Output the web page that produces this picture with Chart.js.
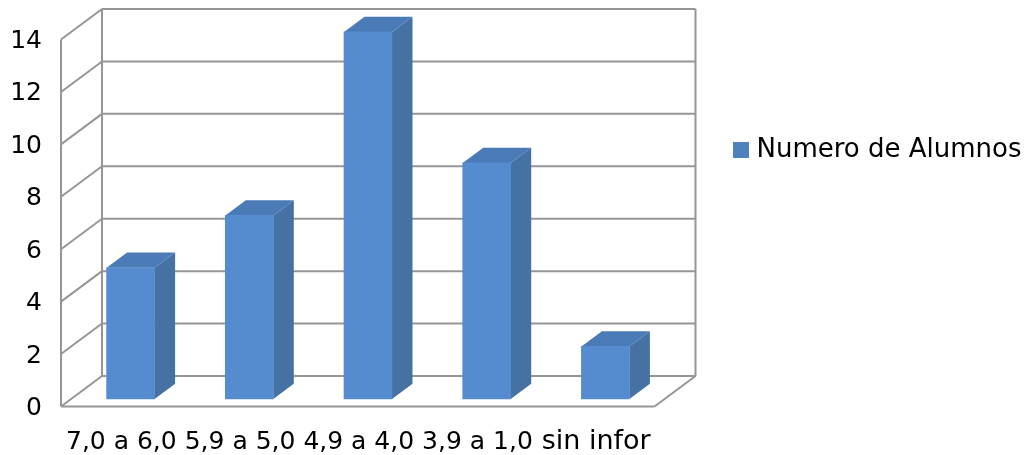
<!DOCTYPE html>
<html>
<head>
<meta charset="utf-8">
<script src="https://cdn.jsdelivr.net/npm/chart.js@4"></script>
<style>
body { margin: 0; background: #fff; }
canvas { display: block; }
</style>
</head>
<body>
<canvas id="alumnosChart" width="1026" height="455"></canvas>
<script>
const categories = ['7,0 a 6,0', '5,9 a 5,0', '4,9 a 4,0', '3,9 a 1,0', 'sin infor'];
const alumnos = [5, 7, 14, 9, 2];
const seriesName = 'Numero de Alumnos';

const FONT = 'DejaVu Sans';
const DEPTH_X = 41, DEPTH_Y = 30.5;   // how far the back wall sits from the front plane
const GRID = '#969696';

function line(ctx, x1, y1, x2, y2) {
    ctx.beginPath();
    ctx.moveTo(x1, y1);
    ctx.lineTo(x2, y2);
    ctx.stroke();
}

function poly(ctx, pts, color) {
    ctx.fillStyle = color;
    ctx.beginPath();
    pts.forEach((p, i) => i ? ctx.lineTo(p[0], p[1]) : ctx.moveTo(p[0], p[1]));
    ctx.closePath();
    ctx.fill();
}

// fake 3d box: walls behind, side and top faces on the bars
const box3d = {
    id: 'box3d',
    afterLayout(chart) {
        // legend sits higher and tighter than the layout would put it
        chart.legend.left = 728.5;
        chart.legend.right = 1026;
        chart.legend.top = 127;
    },
    beforeDatasetsDraw(chart) {
        const { ctx, chartArea: a, scales: { y } } = chart;
        ctx.save();
        ctx.strokeStyle = GRID;
        ctx.lineWidth = 2;
        y.ticks.forEach(t => {
            const py = y.getPixelForValue(t.value);
            line(ctx, a.left, py, a.left + DEPTH_X, py - DEPTH_Y);
            line(ctx, a.left + DEPTH_X, py - DEPTH_Y, a.right + DEPTH_X, py - DEPTH_Y);
        });
        line(ctx, a.left, a.top, a.left, a.bottom);
        line(ctx, a.left + DEPTH_X, a.top - DEPTH_Y, a.left + DEPTH_X, a.bottom - DEPTH_Y);
        line(ctx, a.right + DEPTH_X, a.top - DEPTH_Y, a.right + DEPTH_X, a.bottom - DEPTH_Y);
        line(ctx, a.left, a.bottom, a.right, a.bottom);
        line(ctx, a.right, a.bottom, a.right + DEPTH_X, a.bottom - DEPTH_Y);
        ctx.restore();
    },
    beforeDatasetDraw(chart) {
        const { ctx } = chart;
        ctx.save();
        // bars stand in the middle of the floor, a quarter of the way back
        ctx.translate(DEPTH_X / 4, -DEPTH_Y / 4);
        const dx = DEPTH_X / 2, dy = DEPTH_Y / 2;
        chart.getDatasetMeta(0).data.forEach(bar => {
            const l = bar.x - bar.width / 2, r = bar.x + bar.width / 2;
            poly(ctx, [[r, bar.y], [r + dx, bar.y - dy], [r + dx, bar.base - dy], [r, bar.base]], '#4671a3');
            poly(ctx, [[l, bar.y], [l + dx, bar.y - dy], [r + dx, bar.y - dy], [r, bar.y]], '#4a7bb7');
        });
    },
    afterDatasetDraw(chart) {
        chart.ctx.restore();
    }
};

new Chart(document.getElementById('alumnosChart'), {
    type: 'bar',
    data: {
        labels: categories,
        datasets: [{
            label: seriesName,
            data: alumnos,
            backgroundColor: '#548ccf',
            barThickness: 48,
            clip: false
        }]
    },
    options: {
        responsive: false,
        animation: false,
        layout: { padding: { top: 39.5, right: 153.33 } },
        plugins: {
            tooltip: { enabled: false },
            legend: {
                position: 'right',
                align: 'start',
                onClick: null,
                labels: {
                    color: '#000',
                    font: { family: FONT, size: 26 },
                    boxWidth: 5,
                    boxHeight: 5,
                    padding: 10,
                    // thick outline makes the swatch 16px while keeping the text close
                    generateLabels: () => [{
                        text: seriesName,
                        fillStyle: '#4f81bd',
                        strokeStyle: '#4f81bd',
                        lineWidth: 11,
                        datasetIndex: 0
                    }]
                }
            }
        },
        scales: {
            x: {
                grid: { display: false, drawTicks: false },
                border: { display: false },
                ticks: {
                    color: '#000',
                    // the text label runs wider than the digit ones in the original,
                    // lineHeight keeps it on the same baseline
                    font: ctx => categories[ctx.index] === 'sin infor'
                        ? { family: FONT, size: 27, lineHeight: 1.06 }
                        : { family: FONT, size: 25, lineHeight: 1.2 },
                    padding: 21,
                    labelOffset: 1,
                    maxRotation: 0,
                    autoSkip: false
                },
                afterFit(s) { s.height = 48.5; }
            },
            y: {
                min: 0,
                max: 14,
                grid: { display: false, drawTicks: false },
                border: { display: false },
                ticks: {
                    color: '#000',
                    font: { family: FONT, size: 25 },
                    stepSize: 2,
                    padding: 19,
                    labelOffset: 2
                },
                afterFit(s) { s.width = 61; }
            }
        }
    },
    plugins: [box3d]
});
</script>
</body>
</html>
